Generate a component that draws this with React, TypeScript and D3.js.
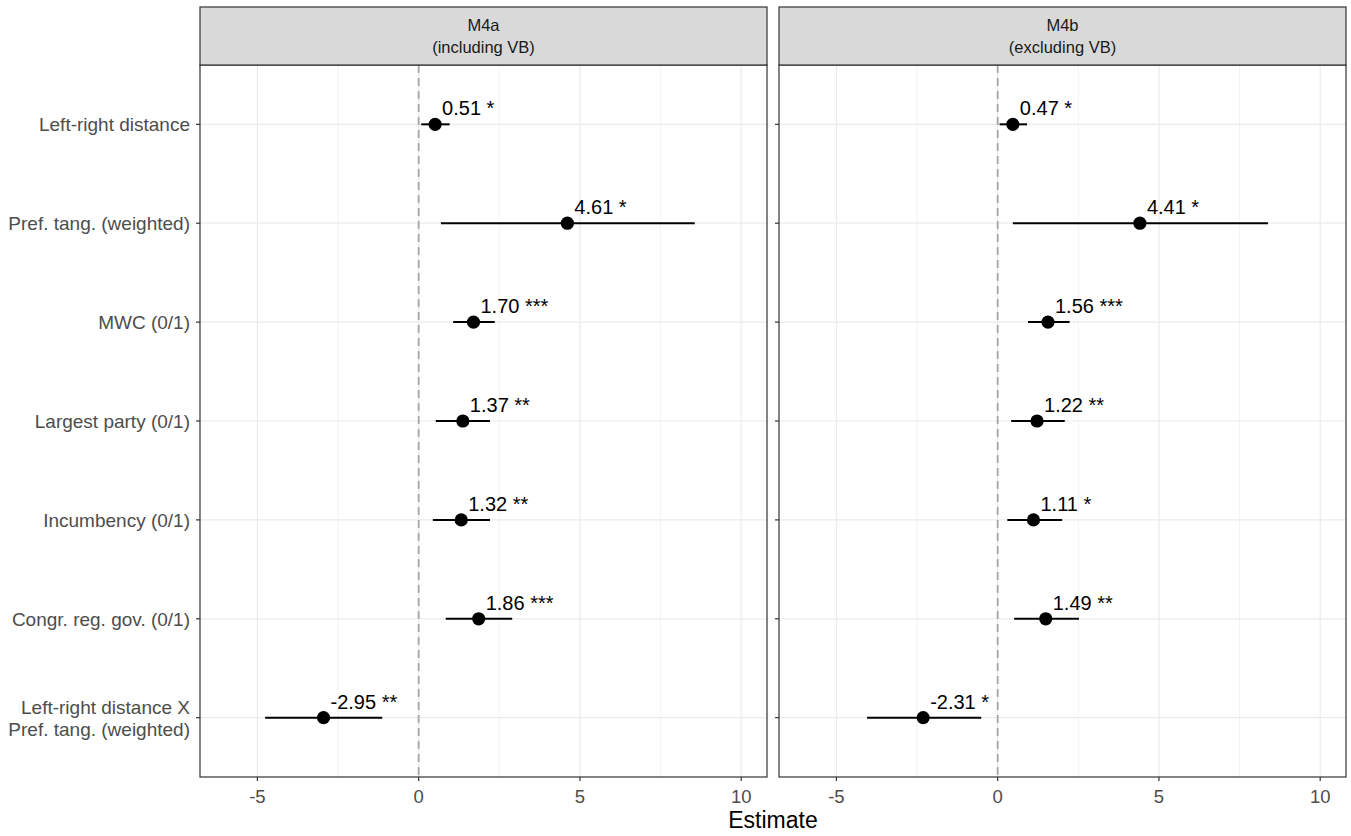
import React from 'react';
import * as d3 from 'd3';

const terms = [
  'Left-right distance',
  'Pref. tang. (weighted)',
  'MWC (0/1)',
  'Largest party (0/1)',
  'Incumbency (0/1)',
  'Congr. reg. gov. (0/1)',
  'Left-right distance X\nPref. tang. (weighted)',
];

const models = ['M4a\n(including VB)', 'M4b\n(excluding VB)'];

// estimates, lower and upper bounds, stars, per model
const estA = [0.51, 4.61, 1.7, 1.37, 1.32, 1.86, -2.95];
const lowA = [0.08, 0.69, 1.07, 0.53, 0.44, 0.84, -4.76];
const highA = [0.96, 8.56, 2.36, 2.21, 2.21, 2.9, -1.13];
const starsA = ['*', '*', '***', '**', '**', '***', '**'];

const estB = [0.47, 4.41, 1.56, 1.22, 1.11, 1.49, -2.31];
const lowB = [0.06, 0.47, 0.94, 0.42, 0.3, 0.51, -4.05];
const highB = [0.91, 8.38, 2.23, 2.08, 2.0, 2.52, -0.51];
const starsB = ['*', '*', '***', '**', '*', '**', '*'];

const xTicks = [-5, 0, 5, 10];
const xMinor = [-2.5, 2.5, 7.5];

const W = 1351;
const H = 836;
const FONT = 'Liberation Sans, Arial, sans-serif';

const panelTop = 65;
const panelBottom = 777;
const stripTop = 7;
const panels = [
  { x0: 200, x1: 767, est: estA, low: lowA, high: highA, stars: starsA },
  { x0: 779, x1: 1346, est: estB, low: lowB, high: highB, stars: starsB },
];

const y = d3.scalePoint<string>().domain(terms).range([panelTop, panelBottom]).padding(0.6);

function Panel({ p, title, showY }: any) {
  const x = d3.scaleLinear().domain([-6.78, 10.8]).range([p.x0, p.x1]);
  const titleLines = title.split('\n');
  return (
    <g>
      {/* grid */}
      {xMinor.map((t) => (
        <line key={'mn' + t} x1={x(t)} x2={x(t)} y1={panelTop} y2={panelBottom} stroke="#ebebeb" strokeWidth={0.6} />
      ))}
      {xTicks.map((t) => (
        <line key={'mj' + t} x1={x(t)} x2={x(t)} y1={panelTop} y2={panelBottom} stroke="#ebebeb" strokeWidth={1.2} />
      ))}
      {terms.map((t) => (
        <line key={'h' + t} x1={p.x0} x2={p.x1} y1={y(t)} y2={y(t)} stroke="#ebebeb" strokeWidth={1.2} />
      ))}
      {/* zero reference */}
      <line x1={x(0)} x2={x(0)} y1={panelTop} y2={panelBottom} stroke="#a6a6a6" strokeWidth={1.8} strokeDasharray="8,5" />
      {/* intervals and points */}
      {terms.map((t, i) => (
        <g key={'pt' + i}>
          <line x1={x(p.low[i])} x2={x(p.high[i])} y1={y(t)} y2={y(t)} stroke="#000" strokeWidth={2} />
          <circle cx={x(p.est[i])} cy={y(t)} r={6.6} fill="#000" />
          <text x={x(p.est[i]) + 7} y={(y(t) as number) - 9} fontSize={20} fontFamily={FONT} fill="#000">
            {p.est[i].toFixed(2) + ' ' + p.stars[i]}
          </text>
        </g>
      ))}
      {/* border */}
      <rect x={p.x0} y={panelTop} width={p.x1 - p.x0} height={panelBottom - panelTop} fill="none" stroke="#333" strokeWidth={1.2} />
      {/* strip */}
      <rect x={p.x0} y={stripTop} width={p.x1 - p.x0} height={panelTop - stripTop} fill="#d9d9d9" stroke="#333" strokeWidth={1.2} />
      {titleLines.map((s: string, k: number) => (
        <text key={'st' + k} x={(p.x0 + p.x1) / 2} y={stripTop + 24 + k * 22} textAnchor="middle" fontSize={16.5} fontFamily={FONT} fill="#1a1a1a">
          {s}
        </text>
      ))}
      {/* x axis */}
      {xTicks.map((t) => (
        <g key={'xt' + t}>
          <line x1={x(t)} x2={x(t)} y1={panelBottom} y2={panelBottom + 4} stroke="#333" strokeWidth={1.2} />
          <text x={x(t)} y={panelBottom + 26} textAnchor="middle" fontSize={18.5} fontFamily={FONT} fill="#4d4d4d">
            {t}
          </text>
        </g>
      ))}
      {/* y axis */}
      {showY &&
        terms.map((t) => {
          const lines = t.split('\n');
          const yc = y(t) as number;
          const off = lines.length === 1 ? 7 : -4;
          return (
            <g key={'yt' + t}>
              <line x1={p.x0 - 4} x2={p.x0} y1={yc} y2={yc} stroke="#333" strokeWidth={1.2} />
              {lines.map((s, k) => (
                <text key={k} x={p.x0 - 10} y={yc + off + k * 22} textAnchor="end" fontSize={19} fontFamily={FONT} fill="#4d4d4d">
                  {s}
                </text>
              ))}
            </g>
          );
        })}
      {!showY &&
        terms.map((t) => (
          <line key={'yt2' + t} x1={p.x0 - 4} x2={p.x0} y1={y(t)} y2={y(t)} stroke="#333" strokeWidth={1.2} />
        ))}
    </g>
  );
}

export default function App() {
  return (
    <svg width={W} height={H} style={{ position: 'fixed', left: 0, top: 0, background: '#fff' }}>
      <rect width={W} height={H} fill="#fff" />
      {panels.map((p, i) => (
        <Panel key={i} p={p} title={models[i]} showY={i === 0} />
      ))}
      <text x={(panels[0].x0 + panels[1].x1) / 2} y={828} textAnchor="middle" fontSize={23} fontFamily={FONT} fill="#000">
        Estimate
      </text>
    </svg>
  );
}
